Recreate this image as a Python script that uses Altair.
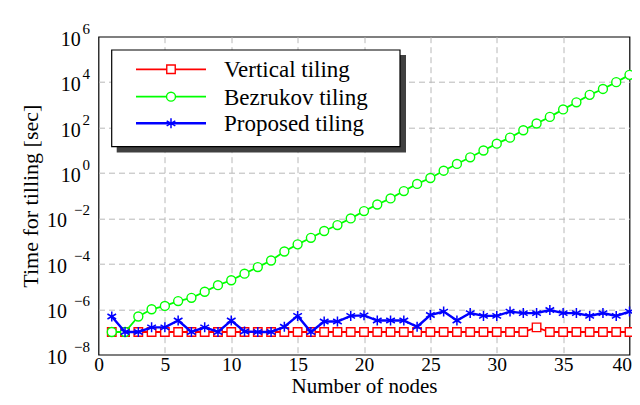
import altair as alt
import pandas as pd

# ---------------- data ----------------
nodes = list(range(1, 41))

vertical_tiling = [
    1.0e-7, 1.0e-7, 1.0e-7, 1.0e-7, 1.0e-7, 1.0e-7, 1.0e-7, 1.0e-7, 1.0e-7, 1.0e-7,
    1.0e-7, 1.0e-7, 1.0e-7, 1.0e-7, 1.0e-7, 1.0e-7, 1.0e-7, 1.0e-7, 1.0e-7, 1.0e-7,
    1.0e-7, 1.0e-7, 1.0e-7, 1.0e-7, 1.0e-7, 1.0e-7, 1.0e-7, 1.0e-7, 1.0e-7, 1.0e-7,
    1.0e-7, 1.0e-7, 1.6e-7, 1.0e-7, 1.0e-7, 1.0e-7, 1.0e-7, 1.0e-7, 1.0e-7, 1.0e-7,
]

bezrukov_tiling = [
    1.0e-7, 1.0e-7, 4.8e-7, 1.0e-6, 1.4e-6, 2.3e-6, 3.2e-6, 5.9e-6, 1.15e-5, 1.9e-5,
    3.7e-5, 7.2e-5, 1.4e-4, 3.5e-4, 7.2e-4, 1.4e-3, 2.8e-3, 5.1e-3, 1.0e-2, 2.1e-2,
    4.1e-2, 7.6e-2, 0.16, 0.33, 0.60, 1.26, 2.5, 4.9, 9.8, 19.5,
    36.0, 76.0, 151.0, 295.0, 630.0, 1290.0, 2750.0, 5000.0, 10000.0, 20900.0,
]

proposed_tiling = [
    4.8e-7, 1.0e-7, 1.0e-7, 1.6e-7, 1.6e-7, 3.2e-7, 1.0e-7, 1.6e-7, 1.0e-7, 3.2e-7,
    1.05e-7, 1.0e-7, 1.0e-7, 1.7e-7, 5.1e-7, 1.0e-7, 2.9e-7, 2.9e-7, 5.1e-7, 5.4e-7,
    3.2e-7, 3.2e-7, 3.2e-7, 1.7e-7, 5.6e-7, 7.9e-7, 3.2e-7, 6.8e-7, 5.1e-7, 5.1e-7,
    7.9e-7, 6.8e-7, 6.8e-7, 9.3e-7, 6.8e-7, 6.8e-7, 5.1e-7, 6.8e-7, 5.1e-7, 7.9e-7,
]

series_names = ["Vertical tiling", "Bezrukov tiling", "Proposed tiling"]
series_colors = ["#ff0000", "#00ff00", "#0000ff"]

x_ticks = [0, 5, 10, 15, 20, 25, 30, 35, 40]
y_tick_values = [1e-8, 1e-6, 1e-4, 1e-2, 1e0, 1e2, 1e4, 1e6]
y_tick_exponents = ["\u22128", "\u22126", "\u22124", "\u22122", "0", "2", "4", "6"]

# ---------------- tables ----------------
df = pd.DataFrame({
    "node": nodes * 3,
    "time": vertical_tiling + bezrukov_tiling + proposed_tiling,
    "series": [series_names[0]] * 40 + [series_names[1]] * 40 + [series_names[2]] * 40,
})
ticks_df = pd.DataFrame({"time": y_tick_values, "sup": y_tick_exponents})
one = pd.DataFrame({"a": [0]})

FONT = "Liberation Serif"
W, H = 531, 318

asterisk = "M0,-1L0,1M-0.866,-0.5L0.866,0.5M-0.866,0.5L0.866,-0.5"
shapes = ["square", "circle", asterisk]
sizes = [72, 80, 100]
line_w = [1.8, 1.8, 2.4]

yscale = alt.Scale(type="log", domain=[1e-8, 1e6], nice=False)
xscale = alt.Scale(domain=[0, 40], nice=False)

x_axis = alt.Axis(values=x_ticks, grid=True, gridDash=[6, 4], gridColor="#b8b8b8",
                  gridWidth=1,
                  gridOpacity={"condition": {"test": "datum.value <= 0 || datum.value >= 40",
                                             "value": 0}, "value": 1},
                  domain=False, ticks=False, labelFontSize=19.5,
                  labelAlign={"condition": {"test": "datum.value >= 40", "value": "right"},
                              "value": "center"},
                  labelOffset={"condition": {"test": "datum.value >= 40", "value": 2},
                               "value": 0},
                  labelPadding=0.5, labelColor="black", labelFont=FONT,
                  title="Number of nodes", titleFontSize=21, titleFont=FONT,
                  titleFontWeight="normal", titleColor="black",
                  titleBaseline="alphabetic", titlePadding=18.5,
                  labelFlush=False)
y_axis = alt.Axis(values=y_tick_values, grid=True, gridDash=[6, 4], gridColor="#b8b8b8",
                  gridWidth=1,
                  gridOpacity={"condition": {"test": "datum.value <= 1e-8 || datum.value >= 1e6",
                                             "value": 0}, "value": 1},
                  domain=False, ticks=False, labels=False,
                  title="Time for tilling [sec]", titleFontSize=22, titleFont=FONT,
                  titleFontWeight="normal", titleColor="black", titlePadding=56)

X = alt.X("node:Q", scale=xscale, axis=x_axis, title="Number of nodes")
Y = alt.Y("time:Q", scale=yscale, axis=y_axis, title="Time for tilling [sec]")

layers = []
for i, name in enumerate(series_names):
    base = alt.Chart(df).transform_filter(alt.datum.series == name)
    line = base.mark_line(color=series_colors[i], strokeWidth=line_w[i]).encode(x=X, y=Y)
    if i < 2:
        pts = base.mark_point(shape=shapes[i], filled=True, fill="white",
                              stroke=series_colors[i], strokeWidth=1.4,
                              size=sizes[i], opacity=1)
    else:
        pts = base.mark_point(shape=shapes[i], filled=False,
                              stroke=series_colors[i], strokeWidth=1.5,
                              size=sizes[i], opacity=1)
    layers += [line, pts.encode(x=X, y=Y)]

# ---------------- y tick labels: "10" with superscript exponent ----------------
neg = alt.Chart(ticks_df).transform_filter(alt.datum.time < 1)
pos = alt.Chart(ticks_df).transform_filter(alt.datum.time >= 1)
ten_neg = neg.mark_text(text="10", align="right", baseline="middle", dy=3,
                        fontSize=20, font=FONT, color="black").encode(
    x=alt.value(-31.5), y=Y)
ten_pos = pos.mark_text(text="10", align="right", baseline="middle", dy=3,
                        fontSize=20, font=FONT, color="black").encode(
    x=alt.value(-17.8), y=Y)
sup = alt.Chart(ticks_df).mark_text(align="right", baseline="middle", dy=-8,
                                    fontSize=15, font=FONT, color="black").encode(
    x=alt.value(-8.5), y=Y, text="sup:N")
layers += [ten_neg, ten_pos, sup]

# ---------------- legend box ----------------
shadow = alt.Chart(one).mark_rect(color="#404040").encode(
    x=alt.value(18.2), x2=alt.value(307.5), y=alt.value(18.3), y2=alt.value(115.8))
box = alt.Chart(one).mark_rect(fill="white", stroke="black", strokeWidth=1.2).encode(
    x=alt.value(13.2), x2=alt.value(301.5), y=alt.value(13.3), y2=alt.value(110))
layers += [shadow, box]

row_y = [32.6, 60.0, 86.6]
for i, name in enumerate(series_names):
    ln = alt.Chart(one).mark_rule(color=series_colors[i], strokeWidth=line_w[i]).encode(
        x=alt.value(37.5), x2=alt.value(107.5), y=alt.value(row_y[i]))
    if i < 2:
        mk = alt.Chart(one).mark_point(shape=shapes[i], filled=True, fill="white",
                                       stroke=series_colors[i], strokeWidth=1.4,
                                       size=sizes[i], opacity=1)
    else:
        mk = alt.Chart(one).mark_point(shape=shapes[i], filled=False,
                                       stroke=series_colors[i], strokeWidth=1.5,
                                       size=sizes[i], opacity=1)
    mk = mk.encode(x=alt.value(72.5), y=alt.value(row_y[i]))
    tx = alt.Chart(one).mark_text(text=name, align="left", baseline="middle",
                                  fontSize=23, font=FONT, color="black").encode(
        x=alt.value(125.5), y=alt.value(row_y[i] + 1))
    layers += [ln, mk, tx]

chart = alt.layer(*layers).properties(
    width=W, height=H, background="white",
    autosize=alt.AutoSizeParams(type="none"),
    padding={"left": 90.5, "top": 28.7, "right": 2.5, "bottom": 42.3},
).configure_view(stroke="black", strokeWidth=1.2)

chart.save("out.html", embed_options={"renderer": "svg", "actions": False})
